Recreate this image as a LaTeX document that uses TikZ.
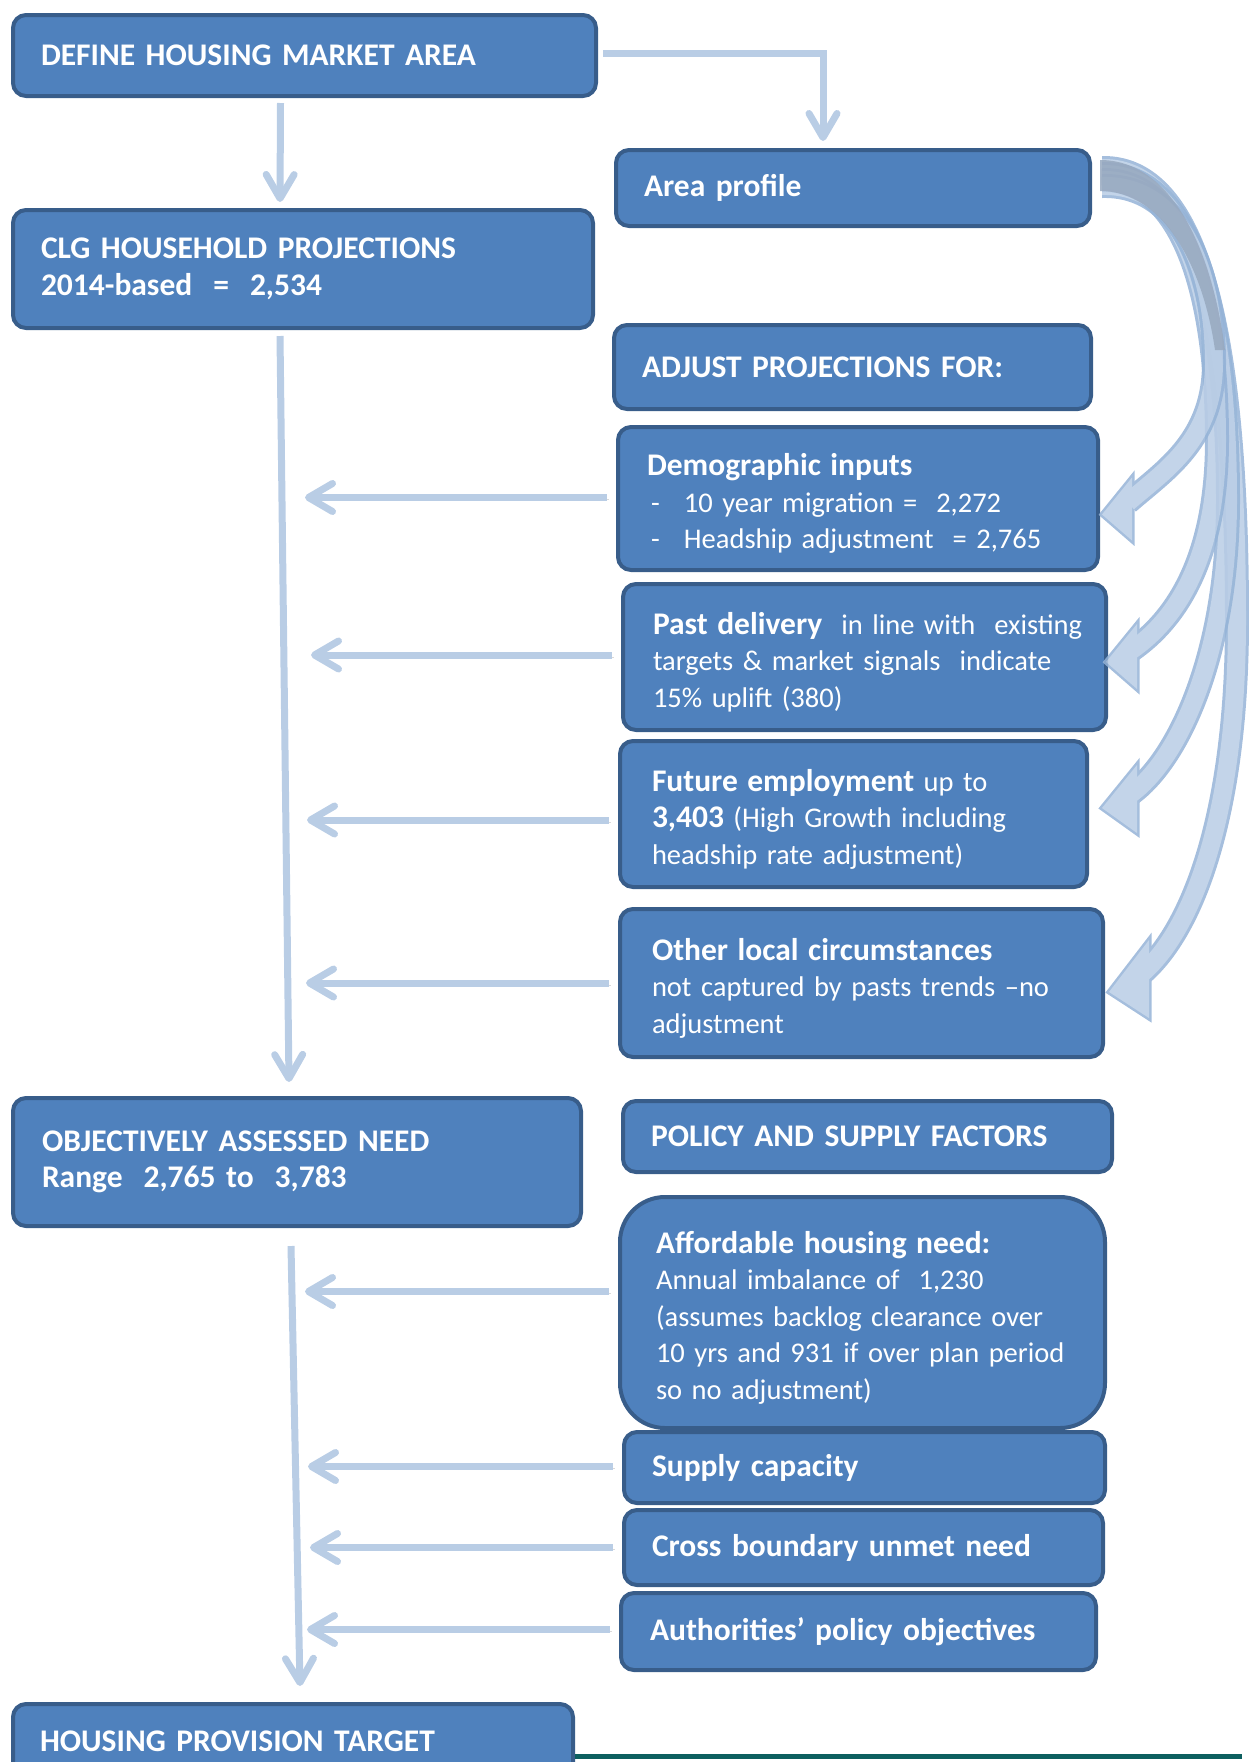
\documentclass[tikz,border=0pt]{standalone}
\usepackage{fontspec}
\setmainfont{Carlito}
\usepackage{tikz}
\usetikzlibrary{arrows.meta, positioning, calc}
\definecolor{bfill}{RGB}{79,129,189}
\definecolor{bdark}{RGB}{56,93,138}
\definecolor{larrow}{RGB}{185,205,229}
\definecolor{cedge}{RGB}{149,179,215}
\definecolor{cfill}{RGB}{185,205,229}
\definecolor{cgrey}{RGB}{152,169,191}
\definecolor{rulegreen}{RGB}{13,96,96}
\newcommand\hdr[1]{{\fontsize{31.5}{36.5}\selectfont\bfseries #1}}
\newcommand\topstrut{\rule{0pt}{32pt}}

\begin{document}
\begin{tikzpicture}[x=1pt, y=-1pt,
  font=\fontsize{28.5}{36.5}\selectfont,
  box/.style={draw=bdark, fill=bfill, line width=4pt, rounded corners=13pt,
              text=white, align=left, anchor=north west, inner xsep=28pt,
              inner ysep=0pt, font=\fontsize{28.5}{36.5}\selectfont},
  bold/.style={box, font=\fontsize{31.5}{36.5}\selectfont\bfseries},
  arr/.style={draw=larrow, line width=7pt,
              -{Straight Barb[length=24pt,width=28pt,round]},
              preaction={draw=black, opacity=.15,
                         transform canvas={shift={(1.5pt,-2pt)}}}},
  bendarr/.style={draw=cedge, line width=3pt, double=cfill, double distance=18pt},
  bendhead/.style={draw=cedge, line width=5pt, fill=cfill, line join=miter},
  rule/.style={draw=rulegreen, line width=5pt}
]
  \useasboundingbox (0,0) rectangle (1249,1762);

  % left column
  \node[bold, text width=527pt, minimum height=81pt] (define) at (11,13)
    {DEFINE HOUSING MARKET AREA};
  \node[bold, text width=524pt, minimum height=118pt] (clg) at (11,208)
    {CLG HOUSEHOLD PROJECTIONS\\2014-based~ = ~2,534};
  \node[bold, inner xsep=29pt, text width=510pt, minimum height=128pt] (oan) at (11,1096)
    {OBJECTIVELY ASSESSED NEED\\Range~ 2,765 to~ 3,783};
  \node[bold, inner xsep=27pt, text width=506pt, minimum height=74pt] (hpt) at (11,1702)
    {HOUSING PROVISION TARGET};

  % right column
  \node[bold, text width=418pt, minimum height=76pt] (area) at (614,148) {Area profile};
  \node[bold, text width=421pt, minimum height=84pt] (adjust) at (612,323)
    {ADJUST PROJECTIONS FOR:};
  \node[box, inner xsep=29pt, text width=422pt, minimum height=143pt] (demog) at (616,425)
    {\topstrut\hdr{Demographic inputs}\\
     \makebox[37pt][l]{\hspace{4pt}-}10 year migration = ~2,272\\
     \makebox[37pt][l]{\hspace{4pt}-}Headship adjustment~ = 2,765};
  \node[box, inner xsep=30pt, text width=423pt, minimum height=146pt] (past) at (621,582)
    {\topstrut\makebox[\hsize][s]{\hdr{Past delivery}\ \ in line with\ \ existing}\\
     \makebox[\hsize][s]{targets \& market signals\ \ indicate}\\
     15\% uplift (380)};
  \node[box, inner xsep=32pt, text width=403pt, minimum height=146pt] (future) at (618,739)
    {\topstrut\hdr{Future employment} up to\\
     \hdr{3,403} (High Growth including\\
     headship rate adjustment)};
  \node[box, inner xsep=32pt, text width=419pt, minimum height=148pt] (other) at (618,907)
    {\topstrut\hdr{Other local circumstances}\\
     \makebox[\hsize][s]{not captured by pasts trends –no}\\
     adjustment};
  \node[bold, text width=433pt, minimum height=71pt] (policy) at (621,1099)
    {POLICY AND SUPPLY FACTORS};
  \node[box, rounded corners=45pt, inner xsep=36pt, text width=413pt, minimum height=231pt]
    (afford) at (618,1195)
    {\topstrut\hdr{Affordable housing need:}\\
     Annual imbalance of~ 1,230\\
     (assumes backlog clearance over\\
     10 yrs and 931 if over plan period\\
     so no adjustment)};
  \node[bold, text width=425pt, minimum height=71pt] (supply) at (622,1430) {Supply capacity};
  \node[bold, text width=423pt, minimum height=75pt] (cross) at (622,1508)
    {Cross boundary unmet need};
  \node[bold, inner xsep=29pt, text width=417pt, minimum height=77pt] (auth) at (619,1591)
    {Authorities’ policy objectives};

  % main flow
  \draw[arr] ([xshift=-24pt,yshift=-5pt]define.south) -- ([xshift=-23pt,yshift=6pt]clg.north);
  \draw[arr] ([xshift=5pt,yshift=2pt]define.east) -| ([xshift=-30pt,yshift=7pt]area.north);
  \draw[arr] ([xshift=-23pt,yshift=-6pt]clg.south) -- ([xshift=-8pt,yshift=14pt]oan.north);
  \draw[arr] ([xshift=-6pt,yshift=-18pt]oan.south) -- ([xshift=7pt,yshift=16pt]hpt.north);

  % adjustments feeding the trunk
  \foreach \n/\dy/\len in {demog/1/302,past/2/301,future/-6/302,other/0/303,
                           afford/21/304,supply/1/305,cross/0/303,auth/2/303}
    \draw[arr] ([xshift=-9pt,yshift=\dy pt]\n.west) -- ++(-\len,0);

  % curved arrows from the area profile
  \coordinate (s1) at ($(area.east)+(10,-2)$);
  \coordinate (s2) at ($(area.east)+(10,-8)$);
  \coordinate (s3) at ($(area.east)+(10,-14)$);
  \coordinate (s4) at ($(area.east)+(10,-20)$);
  \coordinate (h1) at ($(demog.east)+(2,16)$);
  \coordinate (h2) at ($(past.east)+(-2,5)$);
  \coordinate (h3) at ($(future.east)+(13,-6)$);
  \coordinate (h4) at ($(other.east)+(4,9)$);

  \begin{scope}[transparency group, opacity=.85]
    \draw[bendhead] (h4) -- ++(40,-52) -- ++(0,78) -- cycle;
    \draw[bendarr] (s4) .. controls (1205,166) and (1237,360) .. (1237,620)
                        .. controls (1237,820) and (1190,935) .. ($(h4)+(30,-16)$);
    \fill[cfill] (h4) -- ++(40,-52) -- ++(0,78) -- cycle;
  \end{scope}
  \begin{scope}[transparency group, opacity=.85]
    \draw[bendhead] (h3) -- ++(35,-43) -- ++(0,68) -- cycle;
    \draw[bendarr] (s3) .. controls (1195,172) and (1228,320) .. (1228,500)
                        .. controls (1228,660) and (1175,765) .. ($(h3)+(26,-12)$);
    \fill[cfill] (h3) -- ++(35,-43) -- ++(0,68) -- cycle;
  \end{scope}
  \begin{scope}[transparency group, opacity=.85]
    \draw[bendhead] (h2) -- ++(31,-38) -- ++(0,65) -- cycle;
    \draw[bendarr] (s2) .. controls (1185,178) and (1217,300) .. (1217,440)
                        .. controls (1217,560) and (1175,620) .. ($(h2)+(26,-12)$);
    \fill[cfill] (h2) -- ++(31,-38) -- ++(0,65) -- cycle;
  \end{scope}
  \begin{scope}[transparency group, opacity=.85]
    \draw[bendhead] (h1) -- ++(30,-37) -- ++(0,63) -- cycle;
    \draw[bendarr] (s1) .. controls (1175,184) and (1213,260) .. (1214,360)
                        .. controls (1215,440) and (1165,470) .. ($(h1)+(26,-12)$);
    \fill[cfill] (h1) -- ++(30,-37) -- ++(0,63) -- cycle;
  \end{scope}
  % shaded common stem
  \fill[cgrey, opacity=.85] (1100,160) .. controls (1172,160) and (1212,250) .. (1225,350)
    -- (1215,350) .. controls (1203,266) and (1163,191) .. (1100,191) -- cycle;

  % page rule
  \coordinate (r1) at (1242,1756);
  \draw[rule] (hpt.east |- r1) -- (r1);
\end{tikzpicture}
\end{document}
